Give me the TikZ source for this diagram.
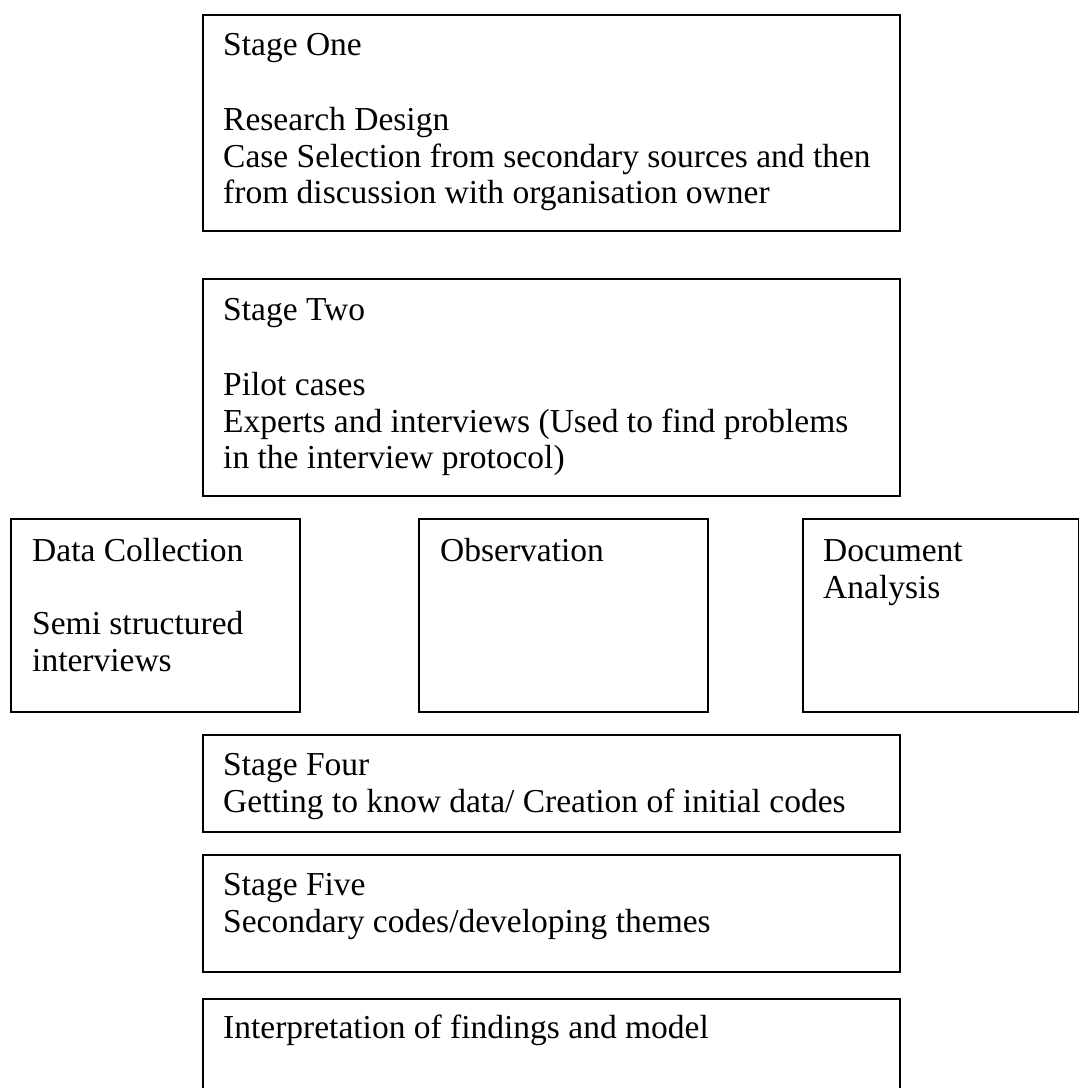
\documentclass[tikz,border=0pt]{standalone}
\usepackage{fontspec}
\setmainfont{Liberation Serif}
\begin{document}
\begin{tikzpicture}[x=1pt,y=-1pt,
  stagebox/.style={draw=black,line width=1.4pt},
  txt/.style={anchor=base west,inner sep=0pt,font=\fontsize{33.5}{37}\selectfont}]
\useasboundingbox (0,0) rectangle (1080,1088);

% Stage one
\draw[stagebox] (203,15) rectangle (900,231);
\node[txt] (s1a) at (223,55) {Stage One};
\node[txt] (s1b) at (223,130) {Research Design};
\node[txt] (s1c) at (223,167) {Case Selection from secondary sources and then};
\node[txt] (s1d) at (223,203) {from discussion with organisation owner};

% Stage two
\draw[stagebox] (203,279) rectangle (900,496);
\node[txt] (s2a) at (223,320) {Stage Two};
\node[txt] (s2b) at (223,395) {Pilot cases};
\node[txt] (s2c) at (223,432) {Experts and interviews (Used to find problems};
\node[txt] (s2d) at (223,468) {in the interview protocol)};

% Data collection row
\draw[stagebox] (11,519) rectangle (300,712);
\node[txt] (dca) at (32,561) {Data Collection};
\node[txt] (dcb) at (32,634) {Semi structured};
\node[txt] (dcc) at (32,671) {interviews};

\draw[stagebox] (419,519) rectangle (708,712);
\node[txt] (obs) at (440,561) {Observation};

\draw[stagebox] (803,519) rectangle (1078.5,712);
\node[txt] (doca) at (823,561) {Document};
\node[txt] (docb) at (823,598) {Analysis};

% Stage four
\draw[stagebox] (203,735) rectangle (900,832);
\node[txt] (s4a) at (223,775) {Stage Four};
\node[txt] (s4b) at (223,812) {Getting to know data/ Creation of initial codes};

% Stage five
\draw[stagebox] (203,855) rectangle (900,972);
\node[txt] (s5a) at (223,895) {Stage Five};
\node[txt] (s5b) at (223,932) {Secondary codes/developing themes};

% Interpretation
\draw[stagebox] (203,999) rectangle (900,1110);
\node[txt] (s6a) at (223,1038) {Interpretation of findings and model};
\end{tikzpicture}
\end{document}
